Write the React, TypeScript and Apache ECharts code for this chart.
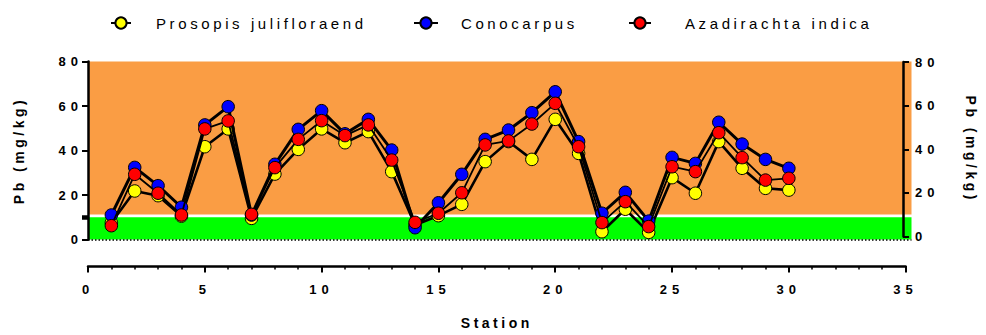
import React, { useEffect, useRef } from 'react';
import * as echarts from 'echarts';

const stations = [1, 2, 3, 4, 5, 6, 7, 8, 9, 10, 11, 12, 13, 14, 15, 16, 17, 18, 19, 20, 21, 22, 23, 24, 25, 26, 27, 28, 29, 30];
const prosopis = [7.5, 21.8, 19.7, 10.5, 41.7, 49.7, 9.5, 29.4, 40.5, 49.7, 43.5, 48.5, 30.5, 6.5, 10.7, 15.8, 35.0, 44.0, 36.0, 54.0, 38.7, 3.5, 13.6, 3.2, 27.8, 20.8, 44.0, 32.0, 23.0, 22.2];
const conocarpus = [11.0, 32.4, 24.2, 14.5, 51.5, 59.7, 11.0, 33.8, 49.5, 57.9, 47.5, 54.0, 40.2, 5.3, 16.5, 29.3, 45.0, 49.2, 57.0, 66.4, 44.0, 11.8, 21.2, 8.3, 36.9, 34.2, 52.7, 42.9, 36.0, 32.0];
const azadirachta = [6.2, 29.3, 20.8, 11.0, 49.7, 53.3, 11.3, 32.3, 45.0, 53.4, 46.7, 51.5, 35.7, 7.7, 11.8, 21.0, 42.5, 44.3, 51.9, 61.2, 41.7, 7.6, 17.0, 5.8, 32.7, 30.5, 48.0, 36.8, 26.7, 27.5];

const seriesNames = ['Prosopis julifloraend', 'Conocarpus', 'Azadirachta indica'];
const seriesValues = [prosopis, conocarpus, azadirachta];
const seriesColors = ['#FFFF00', '#0000FF', '#FF0000'];
const seriesLineWidths = [2.6, 3, 1.8];

const yMin = 0;
const yMax = 80;
const yInterval = 20;
const xMin = 0;
const xMax = 35;
const xInterval = 5;
const thresholdMark = [10];
const greenBand = [0, 10];
const orangeBand = [11.2, 80];

const FONT = 'Liberation Sans, Arial, Helvetica, sans-serif';

export default function App() {
  const ref = useRef<HTMLDivElement>(null);
  useEffect(() => {
    document.body.style.margin = '0';
    const chart = echarts.init(ref.current as HTMLDivElement, null, { renderer: 'svg' });
    const pairs = (vals: number[]) => stations.map((s, i) => [s, vals[i]]);
    const labelStyle = { color: '#000', fontWeight: 'bold', fontSize: 13, fontFamily: FONT };
    const nameStyle = { color: '#000', fontWeight: 'bold', fontSize: 14, fontFamily: FONT };
    const blackLine = { show: true, onZero: false, lineStyle: { color: '#000', width: 2.5 } };
    const dataXMax = 35.25;

    const series: any[] = seriesNames.map((name, i) => {
      const s: any = {
        name,
        type: 'line',
        xAxisIndex: 0,
        yAxisIndex: 0,
        data: pairs(seriesValues[i]),
        symbol: 'circle',
        symbolSize: 12.5,
        z: 2 + i,
        itemStyle: { color: seriesColors[i], borderColor: '#000', borderWidth: 1 },
        lineStyle: { color: '#000', width: seriesLineWidths[i] },
        emphasis: { disabled: true },
      };
      if (i === 0) {
        s.markArea = {
          silent: true,
          z: 1,
          itemStyle: { opacity: 1 },
          data: [
            [
              { xAxis: 0, yAxis: orangeBand[0], itemStyle: { color: '#FA9D44' } },
              { xAxis: dataXMax, yAxis: orangeBand[1] },
            ],
            [
              { xAxis: 0, yAxis: greenBand[0], itemStyle: { color: '#00FF00' } },
              { xAxis: dataXMax, yAxis: greenBand[1] },
            ],
          ],
        };
        s.markLine = {
          silent: true,
          z: 1,
          symbol: 'none',
          label: { show: false },
          lineStyle: { color: '#000', type: [1.5, 2], width: 1.5 },
          data: [{ yAxis: 0 }],
        };
      }
      return s;
    });

    const option: any = {
      animation: false,
      grid: [
        { left: 88, right: 74.5, top: 61.5, bottom: 95.5 },
        { left: 88, right: 986 - (88 + 35 * 23.36), top: 61.5, bottom: 66 },
        { left: 88, right: 74.5, top: 62, bottom: 98.5 },
      ],
      legend: seriesNames.map((n, i) => ({
        data: [n],
        left: [105, 408, 623][i],
        top: 10.5,
        itemWidth: [20, 24, 22][i],
        itemHeight: 14,
        selectedMode: false,
        textStyle: { fontSize: 15, color: '#000', fontFamily: FONT, padding: [0, 0, 0, [20, 18, 29][i]] },
      })),
      xAxis: [
        { gridIndex: 0, type: 'value', min: 0, max: dataXMax, show: false },
        {
          gridIndex: 1,
          type: 'value',
          min: xMin,
          max: xMax,
          interval: xInterval,
          position: 'bottom',
          axisLine: blackLine,
          axisTick: { show: true, length: 6.5, lineStyle: { color: '#000', width: 2 } },
          minorTick: { show: true, splitNumber: 5, length: 3.5, lineStyle: { color: '#000', width: 1.5 } },
          splitLine: { show: false },
          axisLabel: { ...labelStyle, margin: 17 },
          name: 'Station',
          nameLocation: 'middle',
          nameGap: 50,
          nameTextStyle: nameStyle,
        },
        { gridIndex: 2, type: 'value', min: 0, max: 1, show: false },
      ],
      yAxis: [
        {
          gridIndex: 0,
          type: 'value',
          min: yMin,
          max: yMax,
          interval: yInterval,
          position: 'left',
          z: 5,
          axisLine: blackLine,
          axisTick: { show: true, length: 6, lineStyle: { color: '#000', width: 2 } },
          splitLine: { show: false },
          axisLabel: { ...labelStyle, margin: 5 },
          name: 'Pb (mg/kg)',
          nameLocation: 'middle',
          nameGap: 62,
          nameTextStyle: nameStyle,
        },
        {
          gridIndex: 0,
          type: 'value',
          min: yMin,
          max: yMax,
          position: 'left',
          z: 5,
          axisLine: { show: false },
          axisTick: { show: true, customValues: thresholdMark, length: 6, lineStyle: { color: '#000', width: 4.5 } },
          axisLabel: { show: false },
          splitLine: { show: false },
        },
        { gridIndex: 1, type: 'value', min: 0, max: 1, show: false },
        {
          gridIndex: 2,
          type: 'value',
          min: yMin,
          max: yMax,
          interval: yInterval,
          position: 'right',
          z: 5,
          axisLine: blackLine,
          axisTick: { show: true, length: 6, lineStyle: { color: '#000', width: 2 } },
          splitLine: { show: false },
          axisLabel: { ...labelStyle, margin: 12 },
          name: 'Pb (mg/kg)',
          nameLocation: 'middle',
          nameRotate: -90,
          nameGap: 61,
          nameTextStyle: nameStyle,
        },
      ],
      series,
    };
    chart.setOption(option);
    return () => chart.dispose();
  }, []);

  return (
    <div>
      <style>{`
        #pbchart text[style*="15px"] { letter-spacing: 3.6px; }
        #pbchart text[style*="13px"] { letter-spacing: 5px; }
        #pbchart text[style*="14px"] { letter-spacing: 3.5px; }
      `}</style>
      <div id="pbchart" ref={ref} style={{ width: 986, height: 335 }} />
    </div>
  );
}
